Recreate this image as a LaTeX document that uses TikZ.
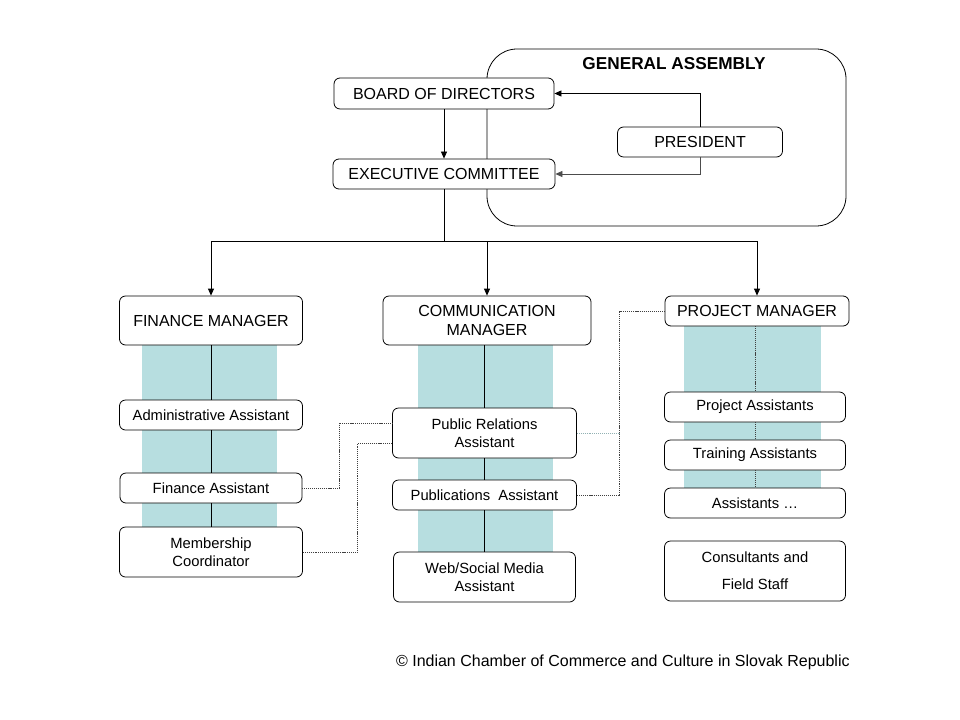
\documentclass[tikz,border=0pt]{standalone}
\usepackage{fontspec}
\setmainfont{Liberation Sans}
\usetikzlibrary{arrows.meta}
\definecolor{bandteal}{HTML}{B7DEE0}

\begin{document}
\begin{tikzpicture}[x=0.2mm,y=-0.2mm,
box/.style={draw, rounded corners=1.2mm, fill=white, align=center, line width=0.45pt, inner sep=0pt},
big/.style={box, font=\fontsize{9.1}{10.8}\selectfont},
small/.style={box, font=\fontsize{8.4}{10.2}\selectfont},
arr/.style={-{Triangle[length=1.4mm,width=1.2mm]}, line width=0.45pt},
link/.style={line width=0.45pt},
dots/.style={line width=0.5pt, dash pattern=on 0.6pt off 0.5pt, black!75}]
\useasboundingbox (0,0) rectangle (960,720);
\fill[bandteal] (142,345) rectangle (277,527);
\fill[bandteal] (418,345) rectangle (553,552);
\fill[bandteal] (684,326) rectangle (821,488);
\node[draw, rounded corners=6mm, line width=0.45pt, minimum width=71.8mm, minimum height=35.4mm] (assembly) at (666.5,137.5) {};
\node[font=\fontsize{9.8}{12}\selectfont\bfseries] (gatitle) at (674,64) {GENERAL ASSEMBLY};
\node[big, minimum width=44mm, minimum height=6.2mm] (bod) at (444,93.5) {BOARD OF DIRECTORS};
\node[big, minimum width=44.4mm, minimum height=6mm] (ec) at (444,174) {EXECUTIVE COMMITTEE};
\node[big, minimum width=33mm, minimum height=6mm] (pres) at (700,142) {PRESIDENT};
\node[big, minimum width=36.6mm, minimum height=9.8mm] (fm) at (211,320.5) {FINANCE MANAGER};
\node[big, minimum width=41.6mm, minimum height=9.8mm] (cm) at (487,320.5) {COMMUNICATION\\MANAGER};
\node[big, minimum width=36.8mm, minimum height=6mm] (pm) at (757,311) {PROJECT MANAGER};
\node[small, minimum width=36.6mm, minimum height=6mm] (aa) at (211,415) {Administrative Assistant};
\node[small, minimum width=36.4mm, minimum height=6mm] (fa) at (211,488) {Finance Assistant};
\node[small, minimum width=36.6mm, minimum height=10mm] (mc) at (211,552) {Membership\\Coordinator};
\node[small, minimum width=36.8mm, minimum height=10mm] (pr) at (484.5,433) {Public Relations\\Assistant};
\node[small, minimum width=36.8mm, minimum height=6mm] (pub) at (484.5,495) {Publications~ Assistant};
\node[small, minimum width=36.4mm, minimum height=10mm] (web) at (484.5,577) {Web/Social Media\\Assistant};
\node[small, minimum width=36.2mm, minimum height=6mm] (pa) at (755,407) {Project Assistants};
\node[small, minimum width=36.2mm, minimum height=6mm] (ta) at (755,455) {Training Assistants};
\node[small, minimum width=36.2mm, minimum height=6mm] (as) at (755,503) {Assistants \dots};
\node[small, minimum width=36.2mm, minimum height=12mm, font=\fontsize{8.4}{15.3}\selectfont] (cf) at (755,571) {Consultants and\\Field Staff};
\node[anchor=east, inner sep=0pt, font=\fontsize{9.1}{10.8}\selectfont] (credit) at (850,662) {© Indian Chamber of Commerce and Culture in Slovak Republic};
\coordinate (split) at (444,241);
\draw[arr] (bod) -- (ec);
\draw[arr] (pres.north) |- (bod.east);
\draw[arr, black!70] (pres.south) |- (ec.east);
\draw[link] (ec) -- (split);
\draw[arr] (split) -| (fm.north);
\draw[arr] (split) -| (cm.north);
\draw[arr] (split) -| (pm.north);
\draw[link] (fm) -- (aa);
\draw[link] (aa) -- (fa);
\draw[link] (fa) -- (mc);
\draw[link] (cm.south -| pr.north) -- (pr.north);
\draw[link] (pr) -- (pub);
\draw[link] (pub) -- (web);
\draw[dots] (pm.south -| pa.north) -- (pa.north);
\draw[dots] (pa) -- (ta);
\draw[dots] (ta) -- (as);
\draw[dots] (fa.east) -- ++(37,0) |- ([yshift=2mm]pr.west);
\draw[dots] (mc.east) -- ++(55,0) |- ([yshift=-2mm]pr.west);
\draw[dots] (pm.west) -- ++(-45,0) |- (pub.east);
\draw[dots, bandteal!80!black] (pr.east) -- ++(44,0);
\end{tikzpicture}
\end{document}
